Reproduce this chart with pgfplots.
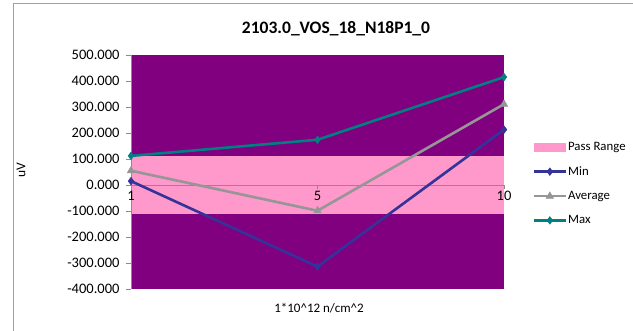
\documentclass[border=0pt]{standalone}
\usepackage{fontspec}
\setmainfont{Carlito}
\usepackage{pgfplots}
\pgfplotsset{compat=1.18}
\definecolor{plotbg}{HTML}{800080}
\definecolor{passpink}{HTML}{FF99CC}
\definecolor{minc}{HTML}{333399}
\definecolor{avgc}{HTML}{969696}
\definecolor{maxc}{HTML}{008080}
\definecolor{framec}{HTML}{A0A0A0}
\definecolor{axc}{HTML}{8C8C8C}
\pgfplotsset{
  mylineleg/.style={legend image code/.code={\draw[##1, mark repeat=2, mark phase=2] plot coordinates {(0pt,0pt) (16pt,0pt) (32pt,0pt)};}},
  myarealeg/.style={legend image code/.code={\fill[passpink] (0pt,-4.5pt) rectangle (32pt,4.5pt);}},
}
\begin{document}
\begin{tikzpicture}
\useasboundingbox (0pt,0pt) rectangle (633pt,330pt);
\draw[framec,line width=1pt] (13pt,-5pt) -- (13pt,326pt) -- (640pt,326pt);
\node[font=\fontsize{17.5}{20}\selectfont\bfseries] at (336pt,301pt) {2103.0\_VOS\_18\_N18P1\_0};
\node[font=\fontsize{13.5}{16}\selectfont, rotate=90] at (21pt,160pt) {uV};
\node[font=\fontsize{13}{16}\selectfont] at (319pt,22pt) {1*10\textasciicircum 12 n/cm\textasciicircum 2};
\begin{axis}[
  at={(131pt,41pt)}, anchor=south west,
  width=373pt, height=234pt, scale only axis,
  xmin=0, xmax=2, ymin=-400, ymax=500,
  enlargelimits=false,
  axis on top,
  axis background/.style={fill=plotbg},
  axis line style={draw=none},
  xtick={0,1,2}, xticklabels={1,5,10},
  ytick distance=100,
  tick style={draw=axc, line width=0.6pt},
  major tick length=5pt,
  tick pos=left,
  xtick align=outside, ytick align=outside,
  xtick style={yshift=104pt, /pgfplots/major tick length=4pt},
  ticklabel style={font=\fontsize{14.5}{17}\selectfont},
  yticklabel style={xshift=-3pt, /pgf/number format/.cd, fixed, fixed zerofill, precision=3, use period, 1000 sep={}, assume math mode=true},
  xticklabel style={yshift=106pt},
  legend style={draw=none, fill=none, at={(rel axis cs:1.076,0.632)}, anchor=north west,
    font=\fontsize{12.8}{15}\selectfont, row sep=12.5pt, inner sep=0pt,
    nodes={inner sep=1pt, anchor=west}},
  legend cell align=left,
  clip=false,
]
\addplot[fill=passpink, draw=none, myarealeg]
  coordinates {(0,-110) (0,110) (2,110) (2,-110)} -- cycle;
\addlegendentry{Pass Range}
\draw[axc, line width=0.8pt] (rel axis cs:0,0) -- (rel axis cs:0,1);
\draw[axc, line width=0.8pt] (axis cs:0,0) -- (axis cs:2,0);
\addplot[minc, line width=2.6pt, mark=diamond*, mark size=3.8pt, mark options={solid, line width=0.5pt}, mylineleg]
  coordinates {(0,15) (1,-314) (2,213)};
\addlegendentry{Min}
\addplot[avgc, line width=2.6pt, mark=triangle*, mark size=4.3pt, mark options={solid, line width=0.5pt}, mylineleg]
  coordinates {(0,55) (1,-99) (2,311)};
\addlegendentry{Average}
\addplot[maxc, line width=2.6pt, mark=diamond*, mark size=3.8pt, mark options={solid, line width=0.5pt}, mylineleg]
  coordinates {(0,112) (1,174) (2,415)};
\addlegendentry{Max}
\end{axis}
\end{tikzpicture}
\end{document}
